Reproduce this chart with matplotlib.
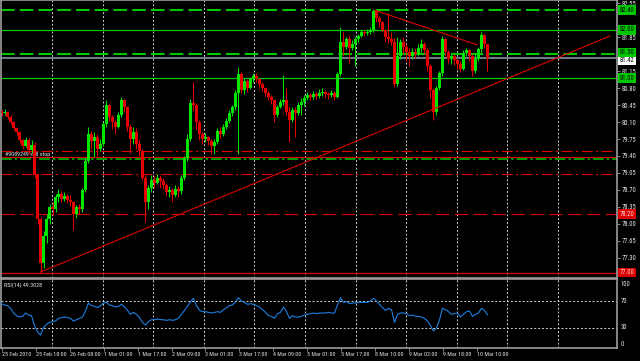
import os
import numpy as np
import matplotlib
matplotlib.use('Agg')
import matplotlib.pyplot as plt
import matplotlib.transforms as mtransforms
from matplotlib import font_manager
from matplotlib.textpath import TextPath

# hourly bars, open of each bar = close of the one before
first_open = 80.32
close = [80.29, 80.31, 80.20, 80.10, 79.98, 79.89, 79.73, 79.61, 79.73, 79.52,
         79.63, 79.01, 78.10, 77.20, 77.75, 78.10, 78.35, 78.30, 78.55, 78.62,
         78.52, 78.58, 78.50, 78.45, 78.20, 78.35, 78.30, 78.70, 79.30, 79.85,
         79.70, 79.80, 79.55, 79.65, 80.05, 80.45, 80.20, 80.10, 80.00, 80.25,
         80.55, 80.40, 80.00, 79.75, 79.90, 79.65, 79.50, 78.95, 78.45, 78.75,
         78.90, 78.85, 78.95, 78.88, 78.80, 78.65, 78.70, 78.60, 78.72, 78.68,
         78.95, 79.35, 79.75, 80.50, 80.45, 80.10, 79.85, 79.75, 79.80, 79.70,
         79.60, 79.68, 79.92, 79.85, 80.00, 80.12, 80.28, 80.40, 80.70, 81.08,
         80.75, 80.95, 80.80, 80.98, 81.05, 80.98, 80.88, 80.80, 80.70, 80.62,
         80.55, 80.25, 80.40, 80.52, 80.55, 80.30, 80.15, 80.35, 80.28, 80.45,
         80.52, 80.60, 80.66, 80.62, 80.68, 80.64, 80.70, 80.72, 80.68, 80.65,
         80.70, 80.62, 81.08, 81.75, 81.65, 81.80, 81.62, 81.70, 81.80, 81.88,
         81.95, 81.93, 81.96, 82.00, 82.38, 82.25, 82.15, 82.00, 81.85, 81.80,
         81.75, 80.88, 81.45, 81.75, 81.65, 81.55, 81.45, 81.55, 81.50, 81.62,
         81.70, 81.58, 81.25, 80.75, 80.30, 80.80, 81.10, 81.80, 81.55, 81.40,
         81.45, 81.38, 81.30, 81.20, 81.52, 81.58, 81.45, 81.15, 81.40, 81.60,
         81.90, 81.70, 81.42]
high = [80.35, 80.37, 80.33, 80.24, 80.12, 80.00, 79.92, 79.76, 79.80, 79.78,
        79.72, 79.68, 79.05, 78.15, 77.85, 78.20, 78.42, 78.45, 78.62, 78.72,
        78.68, 78.66, 78.62, 78.60, 78.48, 78.40, 78.42, 78.75, 79.35, 80.00,
        79.92, 79.90, 79.85, 79.75, 80.10, 80.55, 80.48, 80.25, 80.15, 80.30,
        80.62, 80.58, 80.42, 80.05, 80.00, 79.98, 79.75, 79.55, 79.00, 78.80,
        79.00, 78.98, 79.02, 79.00, 78.95, 78.85, 78.78, 78.75, 78.80, 78.78,
        79.00, 79.40, 79.85, 80.58, 80.92, 80.50, 80.15, 79.90, 79.88, 79.82,
        79.75, 79.75, 79.98, 80.00, 80.05, 80.18, 80.35, 80.45, 80.75, 81.23,
        81.12, 81.00, 80.98, 81.03, 81.10, 81.10, 81.00, 80.92, 80.83, 80.74,
        80.66, 80.58, 80.45, 80.58, 81.07, 80.80, 80.40, 80.40, 80.40, 80.52,
        80.60, 80.66, 80.72, 80.70, 80.74, 80.72, 80.78, 80.80, 80.76, 80.72,
        80.75, 80.74, 81.12, 82.06, 81.95, 81.85, 81.90, 81.78, 81.86, 81.92,
        82.00, 82.00, 82.02, 82.05, 82.42, 82.40, 82.28, 82.18, 82.02, 82.34,
        81.95, 81.82, 81.85, 81.80, 81.85, 81.70, 81.62, 81.62, 81.62, 81.70,
        81.80, 81.74, 81.62, 81.30, 80.80, 80.85, 81.15, 81.88, 81.82, 81.58,
        81.52, 81.50, 81.42, 81.35, 81.58, 81.62, 81.60, 81.50, 81.50, 81.65,
        81.96, 81.92, 81.70]
low = [80.22, 80.24, 80.17, 80.05, 79.93, 79.84, 79.66, 79.55, 79.58, 79.45,
       79.47, 78.95, 78.00, 77.01, 77.10, 77.60, 78.00, 78.18, 78.25, 78.45,
       78.45, 78.48, 78.44, 78.38, 77.88, 78.12, 78.20, 78.25, 78.65, 79.25,
       79.55, 79.38, 79.40, 79.50, 79.60, 80.00, 80.12, 79.95, 79.85, 79.98,
       80.20, 80.30, 79.92, 79.46, 79.65, 79.55, 79.40, 78.90, 78.05, 78.30,
       78.65, 78.75, 78.82, 78.75, 78.72, 78.58, 78.55, 78.45, 78.55, 78.55,
       78.62, 78.90, 79.30, 79.70, 80.35, 79.95, 79.73, 79.65, 79.68, 79.62,
       79.45, 79.45, 79.65, 79.78, 79.82, 79.95, 80.08, 80.22, 80.35, 79.45,
       80.70, 80.68, 80.72, 80.78, 80.92, 80.92, 80.82, 80.74, 80.64, 80.55,
       80.48, 80.10, 80.20, 80.38, 80.45, 80.25, 79.69, 80.10, 79.79, 80.25,
       80.25, 80.42, 80.55, 80.56, 80.58, 80.58, 80.60, 80.64, 80.60, 80.58,
       80.62, 80.56, 80.60, 81.05, 81.45, 81.60, 81.31, 81.58, 81.25, 81.75,
       81.85, 81.88, 81.90, 81.92, 81.95, 82.15, 82.05, 81.95, 81.75, 81.72,
       81.68, 80.82, 80.85, 81.40, 81.50, 81.35, 81.25, 81.40, 81.42, 81.45,
       81.55, 81.50, 81.15, 80.60, 80.14, 80.25, 80.75, 81.05, 81.45, 81.32,
       81.30, 81.28, 81.20, 81.12, 81.18, 81.45, 81.35, 81.05, 81.10, 81.35,
       81.55, 81.62, 81.15]
rsi = [66, 64, 63, 59, 52, 48, 46, 47, 52, 49,
       48, 33, 24, 19, 30, 35, 38, 39, 40, 44,
       45, 46, 45, 44, 40, 42, 44, 46, 55, 67,
       63, 62, 60, 63, 67, 68, 64, 63, 61, 62,
       65, 61, 56, 50, 53, 50, 45, 38, 34, 39,
       42, 42, 43, 42, 42, 41, 42, 41, 42, 44,
       50, 56, 62, 69, 74, 63, 56, 54, 54, 53,
       52, 53, 54, 53, 57, 60, 63, 64, 69, 75,
       70, 68, 65, 66, 65, 63, 61, 57, 53, 48,
       47, 44, 51, 53, 61, 54, 44, 48, 46, 46,
       47, 49, 50, 51, 52, 51, 52, 52, 52, 53,
       52, 52, 64, 75, 68, 69, 66, 67, 67, 68,
       68, 68, 68, 70, 74, 70, 65, 60, 56, 59,
       57, 38, 50, 52, 52, 51, 48, 49, 47, 47,
       46, 44, 40, 33, 25, 30, 42, 59, 57, 54,
       50, 51, 52, 46, 50, 54, 55, 47, 50, 52,
       59, 56, 49.3028]
rsi_title = 'RSI(14) 49.3028'

price_ticks = [82.55, 81.85, 81.15, 80.80, 80.45, 80.10, 79.75, 79.40,
               79.05, 78.70, 78.35, 78.00, 77.65, 77.30]
rsi_ticks = [100, 70, 30, 0]
time_labels = ['25 Feb 2010', '25 Feb 18:00', '26 Feb 08:00', '1 Mar 01:00',
               '1 Mar 17:00', '2 Mar 09:00', '3 Mar 01:00', '3 Mar 17:00',
               '4 Mar 09:00', '5 Mar 01:00', '5 Mar 17:00', '8 Mar 10:00',
               '9 Mar 02:00', '9 Mar 18:00', '10 Mar 10:00']

# horizontal objects on the chart
green_levels = [82.40, 82.00, 81.50, 81.00]
order_level = 79.34
order_note = '#9089249 sell stop'
red_levels = [79.50, 79.38, 79.03, 78.20, 77.00]
bid = 81.42
trend_x = [(13, 202.8), (124.5, 158.5)]
trend_y = [(77.01, 81.87), (82.40, 81.69)]

GREEN = '#00c800'
RED = '#dd0000'
BULL = '#00e600'
BEAR = '#e60000'
GRID = '#d0d0d0'
TXT = '#e4e4e4'
EDGE = '#9c9c9c'


# the terminal uses a narrow pixel font; take a condensed face if there is one
def narrow_font():
    files = [f.fname for f in font_manager.fontManager.ttflist]
    for key in ['LiberationSansNarrow-Regular', 'RobotoCondensed-Regular',
                'Roboto_Condensed-Regular', 'NotoSans-CondensedRegular',
                'NotoSans-Condensed.', 'OpenSans_Condensed-Regular',
                'DejaVuSansCondensed.ttf']:
        for fn in files:
            if key in os.path.basename(fn):
                return font_manager.FontProperties(fname=fn)
    return font_manager.FontProperties(family='DejaVu Sans')


FP = narrow_font()
# size so that '25 Feb 18:00' is about 30 px wide, as on the screen
w10 = TextPath((0, 0), '25 Feb 18:00', size=10, prop=FP).get_extents().width * 100 / 72
FS = min(5.2, 10 * 30 / w10)
PS = FS * 1.1   # price scale labels are a touch larger


def fp(size=FS):
    p = FP.copy()
    p.set_size(size)
    return p


fig = plt.figure(figsize=(6.4, 3.61), dpi=100, facecolor='black')
ax = fig.add_axes([1 / 640, 83 / 361, 616 / 640, 278 / 361], facecolor='black')
ax2 = fig.add_axes([1 / 640, 13 / 361, 616 / 640, 69 / 361], facecolor='black', sharex=ax)

n = len(close)
x = np.arange(n)
c = np.array(close)
o = np.array([first_open] + close[:-1])
up = c >= o
cols = np.where(up, BULL, BEAR)

grid_x = 16.83 + 16.87 * np.arange(11)
tick_x = np.concatenate([[0.0], 11.5 + 11.3 * np.arange(len(time_labels) - 1)])

for a in (ax, ax2):
    for gx in grid_x:
        a.axvline(gx, color=GRID, lw=0.7, ls=(0, (2, 2)), zorder=1)
    for s in a.spines.values():
        s.set_color(EDGE)
        s.set_linewidth(1.2)

# levels
ax.axhline(green_levels[0], color=GREEN, lw=1.5, ls=(0, (6.5, 2.5)), zorder=2)
ax.axhline(green_levels[1], color=GREEN, lw=0.9, zorder=2)
ax.axhline(green_levels[2], color=GREEN, lw=1.5, ls=(0, (6.5, 2.5)), zorder=2)
ax.axhline(green_levels[3], color=GREEN, lw=0.9, zorder=2)
ax.axhline(bid, color='#6f7f8f', lw=1.4, zorder=2)
ax.axhline(red_levels[0], color=RED, lw=0.8, ls=(0, (10, 3, 2, 3)), zorder=2)
ax.axhline(red_levels[1], color=RED, lw=0.8, zorder=2)
ax.axhline(order_level, color=GREEN, lw=1.1, ls=(0, (7, 2, 1.5, 2)), zorder=2)
ax.axhline(red_levels[2], color=RED, lw=0.8, ls=(0, (10, 3, 2, 3)), zorder=2)
ax.axhline(red_levels[3], color=RED, lw=0.8, ls=(0, (12, 5)), zorder=2)
ax.axhline(red_levels[4], color=RED, lw=0.9, zorder=2)

# candles
ax.vlines(x, low, high, colors=cols, lw=0.75, zorder=3)
ax.bar(x, np.maximum(np.abs(c - o), 0.012), bottom=np.minimum(o, c), width=0.7,
       color=cols, linewidth=0, zorder=4)

for tx, ty in zip(trend_x, trend_y):
    ax.plot(tx, ty, color=RED, lw=0.8, zorder=5)

ax.set_xlim(-0.167, 205.17)
ax.set_ylim(76.888, 82.612)
ax.yaxis.tick_right()
ax.set_yticks(price_ticks, [f'{p:.2f}' for p in price_ticks])
for t in ax.get_yticklabels():
    t.set_fontproperties(fp(PS))
ax.tick_params(axis='y', direction='out', length=2, width=0.6, color=EDGE,
               pad=1.5, labelcolor=TXT)
ax.tick_params(axis='x', bottom=False, labelbottom=False)

lab = mtransforms.blended_transform_factory(ax.transAxes, ax.transData)
off = 1 + 2.5 / 616
box = dict(boxstyle='square,pad=0.2', ec='none')
# the bid tag and the 81.50 tag sit stacked, as the terminal shifts them apart
bid_tr = mtransforms.offset_copy(lab, fig=fig, y=-2.5, units='dots')
up_tr = mtransforms.offset_copy(lab, fig=fig, y=1.5, units='dots')
ax.text(off, bid, f'{bid:.2f}', transform=bid_tr, fontproperties=fp(PS), color='black',
        va='center', ha='left', bbox=dict(box, fc='white'), clip_on=False, zorder=6)
for lv in green_levels:
    tr = up_tr if lv == green_levels[2] else lab
    ax.text(off, lv, f'{lv:.2f}', transform=tr, fontproperties=fp(PS), color='black',
            va='center', ha='left', bbox=dict(box, fc=GREEN), clip_on=False, zorder=7)
for lv in red_levels[3:]:
    ax.text(off, lv, f'{lv:.2f}', transform=lab, fontproperties=fp(PS), color='#ffd0d0',
            va='center', ha='left', bbox=dict(box, fc=RED), clip_on=False, zorder=7)
ax.text(4 / 616, 79.43, order_note, transform=lab, fontproperties=fp(FS),
        color=TXT, va='center', ha='left')

# RSI window
ax2.plot(x, rsi, color='#1e7fe0', lw=0.8, zorder=3)
for lv in rsi_ticks[1:3]:
    ax2.axhline(lv, color=GRID, lw=0.7, ls=(0, (2, 2)), zorder=1)
ax2.set_ylim(-0.45, 103.0)
ax2.set_yticks([])
rl = mtransforms.blended_transform_factory(ax2.transAxes, ax2.transData)
for lv in rsi_ticks:
    va = 'top' if lv == 100 else ('bottom' if lv == 0 else 'center')
    ax2.text(off + 1 / 616, lv, str(lv), transform=rl, fontproperties=fp(PS),
             color=TXT, va=va, ha='left', clip_on=False)
ax2.text(3 / 616, 0.91, rsi_title, transform=ax2.transAxes, fontproperties=fp(FS),
         color=TXT, va='center', ha='left')
ax2.set_xticks(tick_x, time_labels)
for t in ax2.get_xticklabels():
    t.set_ha('left')
    t.set_fontproperties(fp())
ax2.tick_params(axis='x', direction='out', length=2, width=0.6, color=EDGE,
                pad=1, labelcolor=TXT)

fig.savefig('out.png', dpi=100, facecolor='black')
